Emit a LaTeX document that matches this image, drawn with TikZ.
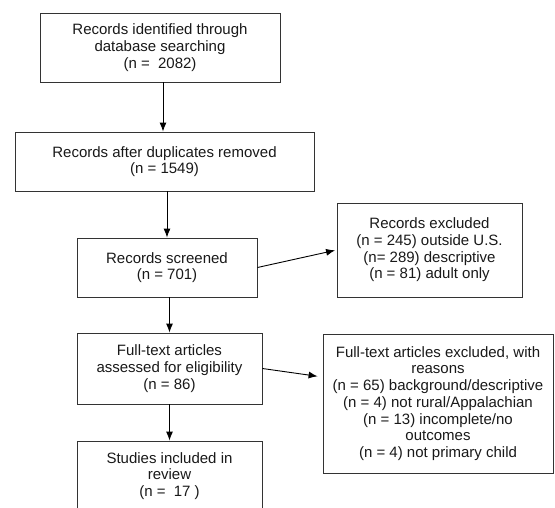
\documentclass[tikz,border=0pt]{standalone}
\usepackage{fontspec}
\setmainfont{Liberation Sans}
\usetikzlibrary{arrows.meta}
\begin{document}
\begin{tikzpicture}[x=1pt,y=-1pt,
  box/.style={draw=black!80, line width=0.9pt, inner sep=0pt, align=center,
    font=\fontsize{15}{16.7}\selectfont, text=black!90},
  arr/.style={-{Latex[length=9pt,width=7pt]}, line width=0.9pt, black}]
\useasboundingbox (0,0) rectangle (555,507);
\clip (0,0) rectangle (555,507);
\fill[white] (0,0) rectangle (555,507);
\node[box, minimum width=240pt, minimum height=69pt] (b1) at (160,47.5)
  {Records identified through\\database searching\\(n =\ \ 2082)};
\node[box, minimum width=299pt, minimum height=59pt] (b2) at (164.5,161.5)
  {Records after duplicates removed\\(n = 1549)};
\node[box, minimum width=180pt, minimum height=59pt] (b3) at (167,267.5)
  {Records screened\\(n = 701)};
\node[box, minimum width=185pt, minimum height=71pt] (b4) at (169.5,368.5)
  {Full-text articles\\assessed for eligibility\\(n = 86)};
\node[box, minimum width=185pt, minimum height=70pt] (b5) at (169.5,476)
  {Studies included in\\review\\(n =\ \ 17 )};
\node[box, minimum width=185pt, minimum height=94pt] (ex1) at (429.5,250)
  {Records excluded\\(n = 245) outside U.S.\\(n= 289) descriptive\\(n = 81) adult only};
\node[box, minimum width=230pt, minimum height=139pt] (ex2) at (438,403.5)
  {Full-text articles excluded, with\\reasons\\(n = 65) background/descriptive\\(n = 4) not rural/Appalachian\\(n = 13) incomplete/no\\outcomes\\(n = 4) not primary child};
\draw[arr] ([xshift=3pt]b1.south) -- ([xshift=3pt]b1.south |- b2.north);
\draw[arr] (b2.south -| b3.north) -- (b3.north);
\draw[arr] (b3.south -| b4.north) -- (b4.north);
\draw[arr] (b4.south) -- (b5.north);
\draw[arr, shorten >=1.5pt] (b3.east) -- (ex1.west);
\draw[arr, shorten >=5pt] (b4.east) -- ([yshift=26.5pt]ex2.west);
\end{tikzpicture}
\end{document}
